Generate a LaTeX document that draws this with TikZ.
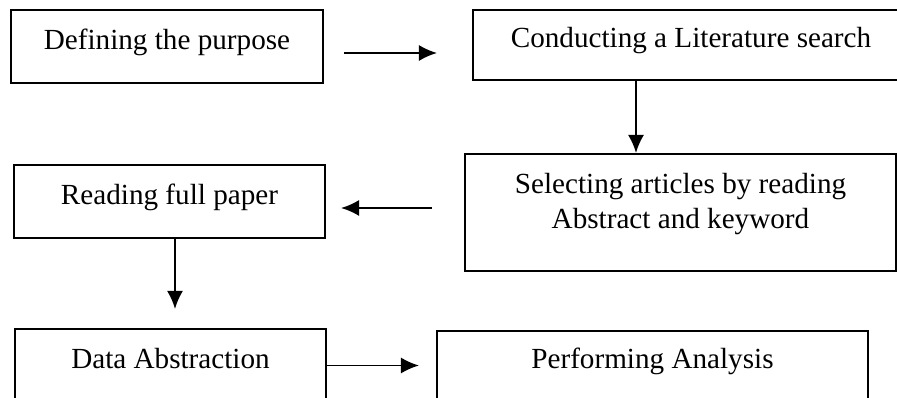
\documentclass[tikz,border=0pt]{standalone}
\usepackage{fontspec}
\setmainfont{Liberation Serif}
\usepackage{tikz}
\usetikzlibrary{arrows.meta,calc}
\definecolor{boxline}{RGB}{0,0,0}
\tikzset{
  >={Latex[length=0.36cm,width=0.32cm]},
  flow/.style={->,draw=black,line width=1.1pt},
  stepbox/.style={
    draw=boxline,
    rectangle,
    line width=1.2pt,
    inner sep=0pt,
    align=center,
    text height=0.4cm,
    text depth=0.28cm,
    font=\fontsize{16.6}{19.9}\selectfont
  }
}

\begin{document}
\begin{tikzpicture}[x=0.02cm,y=-0.02cm]
  \fill[white] (0,0) rectangle (897,398);
  \useasboundingbox (0,0) rectangle (897,398);

  % Top row
  \node[stepbox,minimum width=6.24cm,minimum height=1.46cm] (purpose) at (167,46.5)
    {Defining the purpose};
  \node[stepbox,minimum width=8.72cm,minimum height=1.40cm] (search) at (691,45)
    {Conducting a Literature search};
  \draw[flow] ($(purpose.east)+(20,6.5)$) -- ($(search.west)+(-35,8)$);

  % Middle row
  \node[stepbox,minimum width=8.62cm,minimum height=2.34cm,
        text height={},text depth=0.48cm] (select) at (680.5,212.5)
    {Selecting articles by reading\\Abstract and keyword};
  \coordinate (drop) at ($(search.south)+(-55,0)$);
  \draw[flow] (drop) -- (drop |- select.north);

  \node[stepbox,minimum width=6.22cm,minimum height=1.46cm] (reading) at (169.5,201.5)
    {Reading full paper};
  \draw[flow] ($(select.west)+(-32,-4.5)$) -- ($(reading.east)+(15,6.5)$);

  % Bottom row
  \node[stepbox,minimum width=6.22cm,minimum height=1.46cm] (abstraction) at (170.5,365.5)
    {Data Abstraction};
  \draw[flow] ($(reading.south)+(5.5,0)$) -- ($(abstraction.north)+(4.5,-19)$);

  \node[stepbox,minimum width=8.62cm,minimum height=1.38cm] (analysis) at (652.5,365.5)
    {Performing Analysis};
  \draw[flow] (abstraction.east) -- ($(analysis.west)+(-17,0)$);
\end{tikzpicture}
\end{document}
